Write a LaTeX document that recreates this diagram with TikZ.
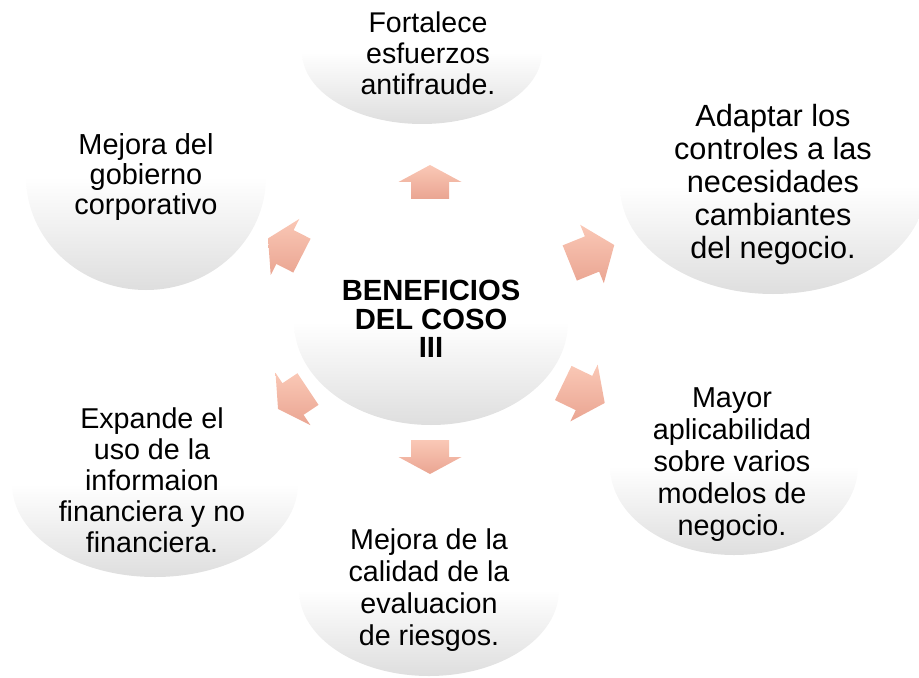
\documentclass[tikz,border=0pt]{standalone}
\usepackage{fontspec}
\setmainfont{Liberation Sans}
\definecolor{ballgray}{RGB}{222,222,222}
\definecolor{arrtop}{RGB}{250,200,182}
\definecolor{arrbot}{RGB}{234,165,146}
\pgfdeclareverticalshading{ballshade}{100bp}{color(0bp)=(ballgray); color(25bp)=(ballgray); color(50bp)=(white); color(100bp)=(white)}
\pgfdeclareverticalshading{arrshade}{100bp}{color(0bp)=(arrbot); color(25bp)=(arrbot); color(75bp)=(arrtop); color(100bp)=(arrtop)}
\tikzset{
  ball/.style={shading=ballshade, draw=none},
  arrowshade/.style={shading=arrshade, draw=none},
  lbl/.style={align=center, inner sep=0pt, text=black},
}
\newcommand\blockarrow[4]{%
  \begin{scope}[shift={(#1,-#2)}, rotate=#3]
    \shade[arrowshade] (-#4/2,-19) -- (0,-19) -- (0,-31.5) -- (#4/2,0)
      -- (0,31.5) -- (0,19) -- (-#4/2,19) -- cycle;
  \end{scope}}
\begin{document}
\begin{tikzpicture}[x=0.75pt, y=0.75pt]
\useasboundingbox (0,0) rectangle (919,-677);
\begin{scope}
\clip (0,0) rectangle (919,-677);
% ellipses
\shade[ball] (431,-322) ellipse [x radius=137, y radius=103];
\shade[ball] (422,-52) ellipse [x radius=120, y radius=72];
\shade[ball] (773,-186) ellipse [x radius=153, y radius=108];
\shade[ball] (146,-177) ellipse [x radius=120, y radius=113];
\shade[ball] (734,-466) ellipse [x radius=124, y radius=89];
\shade[ball] (155,-484) ellipse [x radius=143, y radius=93];
\shade[ball] (429,-590) ellipse [x radius=130, y radius=86];
\end{scope}
% arrows
\blockarrow{430}{182}{90}{34}
\blockarrow{592}{254}{22}{48}
\blockarrow{584}{393}{-25.7}{46}
\blockarrow{430}{457}{-90}{34}
\blockarrow{293}{399}{213.7}{36}
\blockarrow{285}{247}{153}{38}
% texts
\node[lbl, font=\bfseries\fontsize{21.9}{21.2}\selectfont] (c) at (431,-319) {BENEFICIOS\\DEL COSO\\III};
\node[lbl, font=\fontsize{21.4}{23.25}\selectfont] (t1) at (428,-53) {Fortalece\\esfuerzos\\antifraude.};
\node[lbl, font=\fontsize{23}{24.75}\selectfont] (t2) at (773,-185) {Adaptar los\\controles a las\\necesidades\\cambiantes\\del negocio.};
\node[lbl, font=\fontsize{21.6}{24}\selectfont] (t3) at (732,-465) {Mayor\\aplicabilidad\\sobre varios\\modelos de\\negocio.};
\node[lbl, font=\fontsize{21.5}{24.2}\selectfont] (t4) at (429,-590) {Mejora de la\\calidad de la\\evaluacion\\de riesgos.};
\node[lbl, font=\fontsize{21.5}{23.25}\selectfont] (t5) at (152,-480) {Expande el\\uso de la\\informaion\\financiera y no\\financiera.};
\node[lbl, font=\fontsize{21.7}{22.5}\selectfont] (t6) at (146,-177) {Mejora del\\gobierno\\corporativo};
\end{tikzpicture}
\end{document}
